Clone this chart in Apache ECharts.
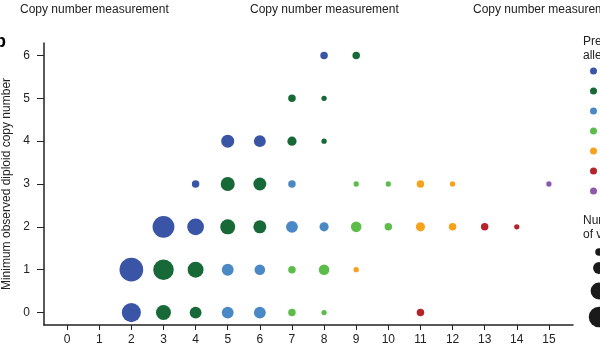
<!DOCTYPE html>
<html>
<head>
<meta charset="utf-8">
<script src="https://cdn.jsdelivr.net/npm/echarts@6/dist/echarts.min.js"></script>
<style>
  html, body { margin: 0; padding: 0; background: #fff; }
  #chart { width: 600px; height: 350px; }
</style>
</head>
<body>
<div id="chart"></div>
<script>
// Points per allele group: [copy number measurement, minimum diploid copy number, number of values]
const alleleGroups = ['1', '2', '3', '4', '5', '6', '7'];
const groupColors = ['#3a55a6', '#176a38', '#4a88c6', '#5dbd4b', '#f6a21d', '#b3252b', '#8b5aa8'];

const group1 = [[2, 0, 13], [2, 1, 20], [3, 2, 17], [4, 2, 10], [4, 3, 2], [5, 4, 6], [6, 4, 5], [8, 6, 2]];
const group2 = [[3, 0, 8], [3, 1, 15], [4, 0, 5], [4, 1, 9], [5, 2, 8], [5, 3, 7], [6, 2, 6], [6, 3, 6],
                [7, 4, 3], [7, 5, 2], [8, 4, 1], [8, 5, 1], [9, 6, 2]];
const group3 = [[5, 0, 5], [5, 1, 5], [6, 0, 5], [6, 1, 4], [7, 2, 5], [7, 3, 2], [8, 2, 3]];
const group4 = [[7, 0, 2], [7, 1, 2], [8, 0, 1], [8, 1, 4], [9, 2, 4], [9, 3, 1], [10, 2, 2], [10, 3, 1]];
const group5 = [[9, 1, 1], [11, 2, 3], [11, 3, 2], [12, 2, 2], [12, 3, 1]];
const group6 = [[11, 0, 2], [13, 2, 2], [14, 2, 1]];
const group7 = [[15, 3, 1]];
const groupData = [group1, group2, group3, group4, group5, group6, group7];

const xTicks = [0, 1, 2, 3, 4, 5, 6, 7, 8, 9, 10, 11, 12, 13, 14, 15];
const yTicks = [0, 1, 2, 3, 4, 5, 6];
const sizeKeys = [2, 5, 10, 15];

const FONT = '"Liberation Sans", Arial, Helvetica, sans-serif';
const INK = '#222';

// circle area proportional to the number of values
function sizeOf(n) { return 5.3 * Math.sqrt(n); }

const chart = echarts.init(document.getElementById('chart'));

const series = alleleGroups.map((name, i) => ({
  name: name,
  type: 'scatter',
  data: groupData[i],
  symbol: 'circle',
  symbolSize: d => sizeOf(d[2]),
  itemStyle: { color: groupColors[i], opacity: 1 },
  emphasis: { disabled: true },
  silent: true
}));

// size key circles, stacked under the "Number of values" heading
const sizeKeyCenters = [252, 268, 291, 317];
const sizeKeyGraphics = sizeKeys.map((n, i) => ({
  type: 'circle',
  shape: { cx: 599, cy: sizeKeyCenters[i], r: sizeOf(n) / 2 },
  style: { fill: '#1a1a1a' }
}));

chart.setOption({
  animation: false,
  backgroundColor: '#fff',
  textStyle: { fontFamily: FONT },
  grid: { left: 44, right: 27, top: 43, bottom: 25, outerBoundsMode: 'none', containLabel: false },
  xAxis: {
    type: 'value',
    min: -0.72,
    max: 15.75,
    axisLine: { show: true, onZero: false, lineStyle: { color: INK, width: 1.5 } },
    axisTick: { show: true, customValues: xTicks, length: 5, lineStyle: { color: INK, width: 1 } },
    axisLabel: { customValues: xTicks, color: INK, fontSize: 12, fontFamily: FONT, margin: 9 },
    splitLine: { show: false }
  },
  yAxis: {
    type: 'value',
    min: -0.29,
    max: 6.29,
    name: 'Minimum observed diploid copy number',
    nameLocation: 'middle',
    nameGap: 31,
    nameTextStyle: { color: INK, fontSize: 12, fontFamily: FONT },
    axisLine: { show: true, onZero: false, lineStyle: { color: INK, width: 1.5 } },
    axisTick: { show: true, customValues: yTicks, length: 7, lineStyle: { color: INK, width: 1 } },
    axisLabel: { customValues: yTicks, color: INK, fontSize: 12, fontFamily: FONT, margin: 14 },
    splitLine: { show: false }
  },
  title: [
    { text: 'Copy number measurement', left: 20, top: 4 },
    { text: 'Copy number measurement', left: 250, top: 4 },
    { text: 'Copy number measurement', left: 473, top: 4 }
  ].map(t => Object.assign(t, {
    padding: 0,
    textStyle: { color: INK, fontSize: 12, fontWeight: 'normal', fontFamily: FONT }
  })),
  legend: {
    orient: 'vertical',
    left: 590,
    top: 64,
    data: alleleGroups,
    icon: 'circle',
    itemWidth: 7,
    itemHeight: 7,
    itemGap: 6,
    padding: 0,
    textStyle: { color: INK, fontSize: 12, lineHeight: 14, fontFamily: FONT },
    selectedMode: false
  },
  graphic: [
    {
      type: 'text', left: -5, top: 33,
      style: { text: 'b', fill: '#000', font: 'bold 18px ' + FONT }
    },
    {
      type: 'text', left: 583, top: 35,
      style: { text: 'Predicted\nalleles', fill: INK, font: '12px ' + FONT, lineHeight: 14 }
    },
    {
      type: 'text', left: 583, top: 214,
      style: { text: 'Number\nof values', fill: INK, font: '12px ' + FONT, lineHeight: 14 }
    }
  ].concat(sizeKeyGraphics),
  series: series
});
</script>
</body>
</html>
